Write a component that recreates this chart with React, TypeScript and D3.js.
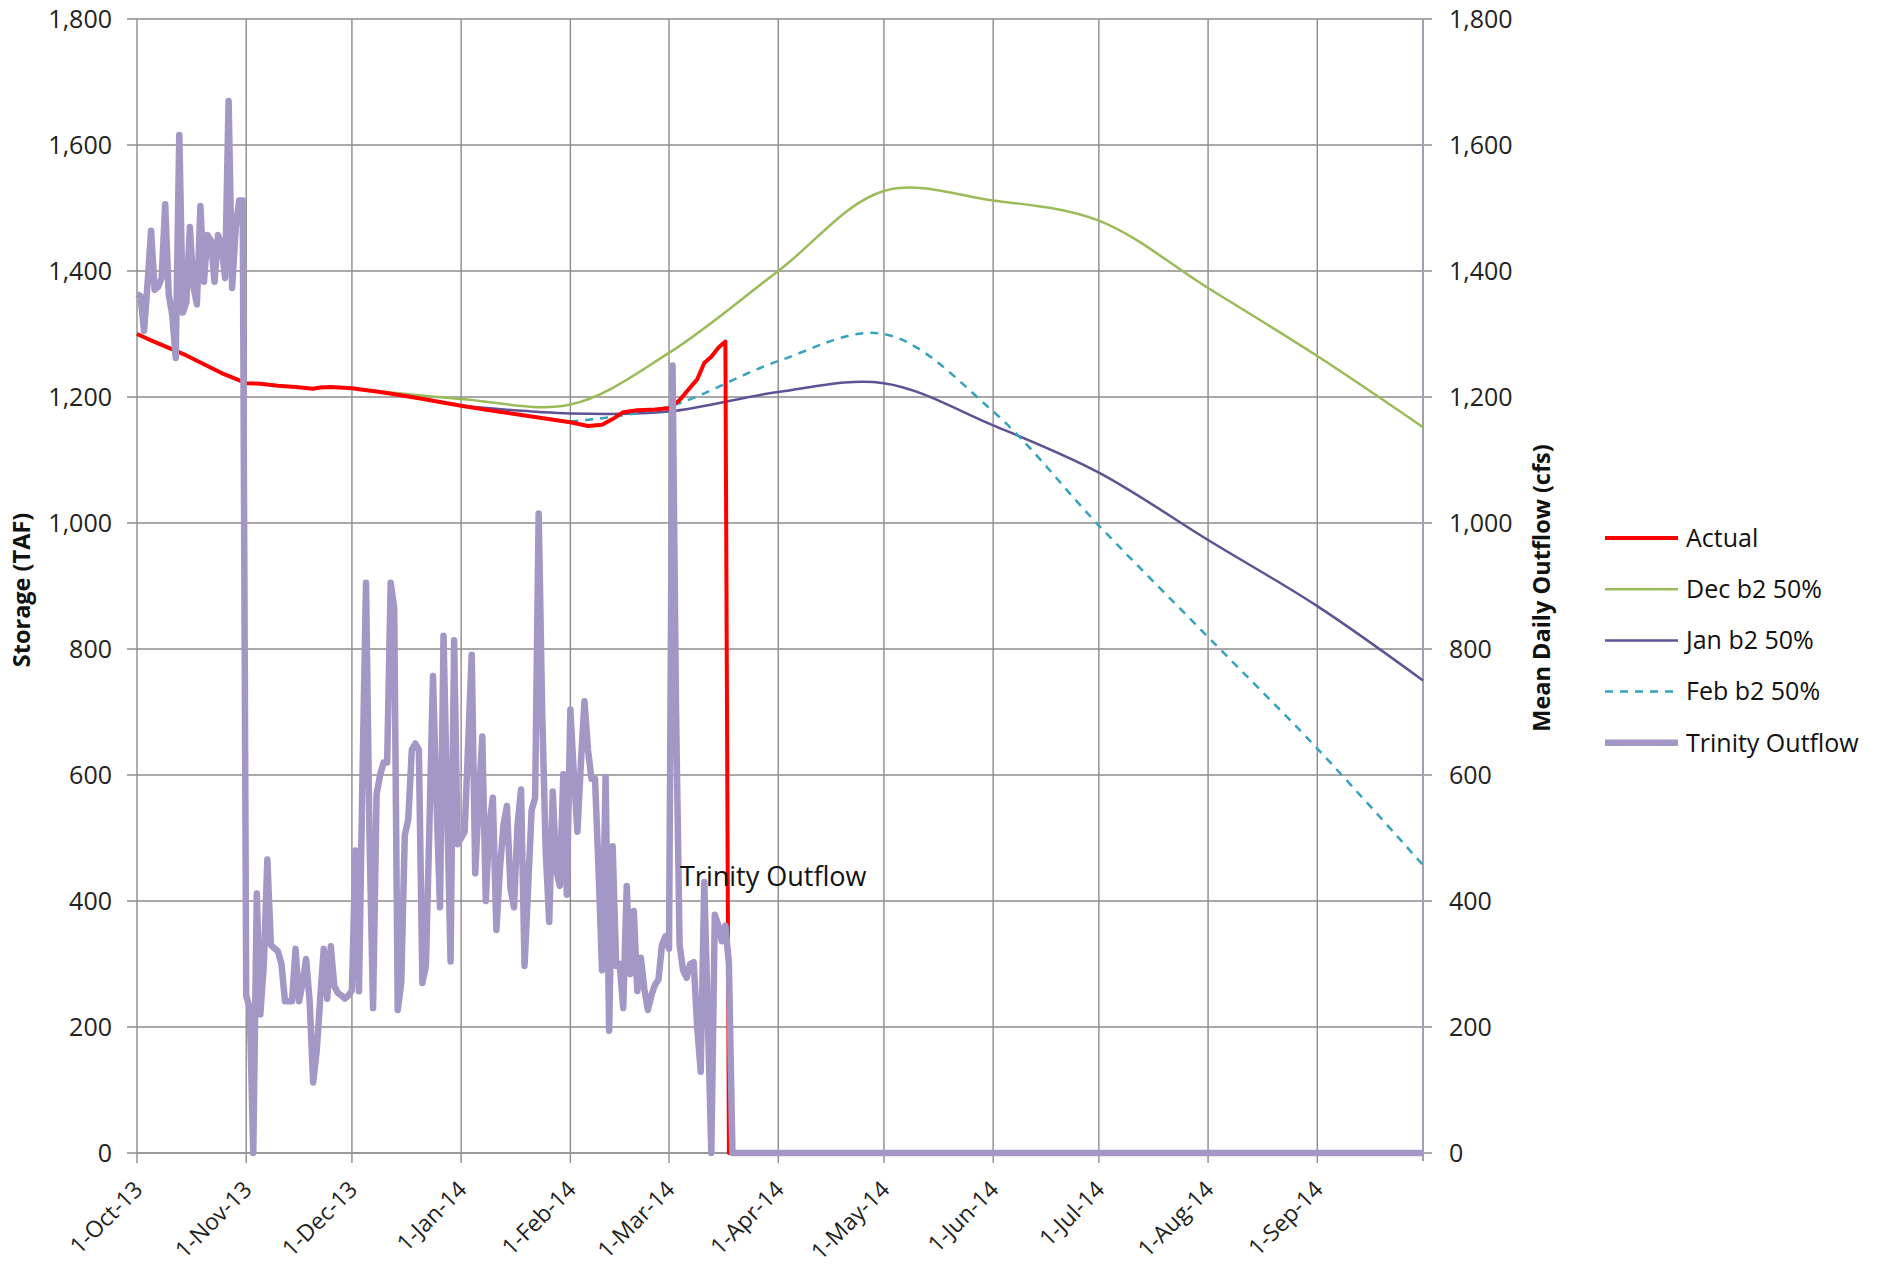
import React, { useEffect, useRef } from "react";
import * as d3 from "d3";

// month gridlines / x labels
const monthTicks = [
  "2013-10-01", "2013-11-01", "2013-12-01", "2014-01-01", "2014-02-01", "2014-03-01",
  "2014-04-01", "2014-05-01", "2014-06-01", "2014-07-01", "2014-08-01", "2014-09-01",
];
const monthLabels = [
  "1-Oct-13", "1-Nov-13", "1-Dec-13", "1-Jan-14", "1-Feb-14", "1-Mar-14",
  "1-Apr-14", "1-May-14", "1-Jun-14", "1-Jul-14", "1-Aug-14", "1-Sep-14",
];
const storageTicks = [0, 200, 400, 600, 800, 1000, 1200, 1400, 1600, 1800];

// Actual storage (TAF)
const actualDates = [
  "2013-10-01", "2013-10-05", "2013-10-10", "2013-10-15", "2013-10-20", "2013-10-25",
  "2013-11-01", "2013-11-05", "2013-11-10", "2013-11-15", "2013-11-20", "2013-11-22",
  "2013-11-25", "2013-12-01", "2013-12-10", "2013-12-20", "2014-01-01", "2014-01-10",
  "2014-01-20", "2014-02-01", "2014-02-06", "2014-02-10", "2014-02-13", "2014-02-16",
  "2014-02-20", "2014-02-25", "2014-03-01", "2014-03-04", "2014-03-07", "2014-03-09",
  "2014-03-11", "2014-03-13", "2014-03-15", "2014-03-17", "2014-03-18", "2014-10-01",
];
const actualValues = [
  1300, 1290, 1278, 1266, 1252, 1238,
  1222, 1221, 1218, 1216, 1213, 1215,
  1216, 1214, 1207, 1198, 1186, 1178,
  1170, 1160, 1154, 1156, 1165, 1176,
  1179, 1180, 1182, 1195, 1215, 1228,
  1254, 1264, 1278, 1288, 0, 0,
];

// forecasts (TAF)
const decDates = [
  "2013-12-01", "2014-01-01", "2014-02-01", "2014-03-01", "2014-04-01", "2014-05-01",
  "2014-06-01", "2014-07-01", "2014-08-01", "2014-09-01", "2014-10-01",
];
const decValues = [1214, 1197, 1188, 1270, 1400, 1527, 1512, 1480, 1373, 1265, 1152];

const janDates = [
  "2014-01-01", "2014-02-01", "2014-03-01", "2014-04-01", "2014-05-01",
  "2014-06-01", "2014-07-01", "2014-08-01", "2014-09-01", "2014-10-01",
];
const janValues = [1186, 1174, 1177, 1208, 1222, 1155, 1080, 973, 868, 750];

const febDates = [
  "2014-02-01", "2014-03-01", "2014-04-01", "2014-05-01",
  "2014-06-01", "2014-07-01", "2014-08-01", "2014-09-01", "2014-10-01",
];
const febValues = [1161, 1185, 1257, 1300, 1177, 996, 819, 642, 457];

// Trinity outflow (cfs), daily from 1-Oct-13
const trinityStart = "2013-10-01";
const trinityDaily = [
  // Oct
  1363, 1360, 1305, 1380, 1464, 1370, 1375, 1389, 1506, 1363, 1330, 1262, 1616, 1334, 1350, 1470,
  1376, 1347, 1503, 1383, 1457, 1448, 1383, 1457, 1440, 1389, 1670, 1373, 1467, 1512, 1512,
  // Nov
  250, 230, 0, 412, 220, 300, 466, 330, 325, 320, 300, 241, 241, 241, 324,
  241, 270, 308, 241, 112, 162, 245, 324, 245, 328, 265, 254, 250, 245, 250,
  // Dec
  258, 480, 257, 600, 905, 500, 230, 570, 600, 620, 620, 905, 865, 227, 270, 504,
  530, 640, 650, 640, 270, 297, 520, 757, 560, 390, 821, 560, 304, 814, 490,
  // Jan
  500, 510, 650, 791, 444, 560, 661, 400, 520, 564, 354, 450, 520, 551, 420, 390,
  520, 577, 297, 420, 544, 564, 1015, 700, 480, 367, 574, 450, 424, 601, 410,
  // Feb
  704, 600, 510, 620, 717, 640, 594, 594, 450, 290, 597, 194, 487, 297,
  300, 230, 424, 284, 384, 257, 310, 260, 227, 250, 267, 275, 330, 344,
  // Mar
  324, 1250, 700, 330, 290, 278, 300, 303, 200, 129, 430, 220, 0, 378, 361, 336, 361, 300, 0,
];
const trinityTailDates = ["2014-10-01"];
const trinityTail = [0];

const legendItems = [
  { name: "Actual", color: "#ff0000", width: 4, dash: null },
  { name: "Dec b2 50%", color: "#9bbb59", width: 2.5, dash: null },
  { name: "Jan b2 50%", color: "#5f5193", width: 2.5, dash: null },
  { name: "Feb b2 50%", color: "#35a3bd", width: 2.5, dash: "8,7" },
  { name: "Trinity Outflow", color: "#a397c5", width: 6.5, dash: null },
];

const FONT = "'Open Sans', sans-serif";

export default function App() {
  const svgRef = useRef<SVGSVGElement>(null);

  useEffect(() => {
    const svg = d3.select(svgRef.current);
    svg.selectAll("*").remove();

    const parse = d3.timeParse("%Y-%m-%d");
    const left = 137;
    const right = 1423;
    const top = 19;
    const bottom = 1153;

    const x = d3
      .scaleTime()
      .domain([parse("2013-10-01")!, parse("2014-10-01")!])
      .range([left, right]);
    const y = d3.scaleLinear().domain([0, 1800]).range([bottom, top]);

    svg.append("rect").attr("width", 1881).attr("height", 1273).attr("fill", "#fff");

    // horizontal grid + ticks on both sides
    svg
      .append("g")
      .selectAll("line")
      .data(storageTicks)
      .join("line")
      .attr("x1", left - 10)
      .attr("x2", right + 9)
      .attr("y1", (d) => y(d))
      .attr("y2", (d) => y(d))
      .attr("stroke", "#8c8c8c")
      .attr("stroke-width", 1.4);

    // vertical grid
    svg
      .append("g")
      .selectAll("line")
      .data(monthTicks)
      .join("line")
      .attr("x1", (d) => x(parse(d)!))
      .attr("x2", (d) => x(parse(d)!))
      .attr("y1", top)
      .attr("y2", bottom + 10)
      .attr("stroke", "#8c8c8c")
      .attr("stroke-width", 1.4);

    // right axis line
    svg
      .append("line")
      .attr("x1", right)
      .attr("x2", right)
      .attr("y1", top)
      .attr("y2", bottom + 8)
      .attr("stroke", "#a0a0b0")
      .attr("stroke-width", 2);

    // bottom axis line
    svg
      .append("line")
      .attr("x1", left)
      .attr("x2", right)
      .attr("y1", bottom)
      .attr("y2", bottom)
      .attr("stroke", "#999")
      .attr("stroke-width", 2);

    // y tick labels
    const fmt = d3.format(",");
    svg
      .append("g")
      .selectAll("text")
      .data(storageTicks)
      .join("text")
      .attr("x", 112)
      .attr("y", (d) => y(d))
      .attr("dy", "0.35em")
      .attr("text-anchor", "end")
      .style("font", `25px ${FONT}`)
      .attr("fill", "#222")
      .text((d) => fmt(d));

    svg
      .append("g")
      .selectAll("text")
      .data(storageTicks)
      .join("text")
      .attr("x", 1449)
      .attr("y", (d) => y(d))
      .attr("dy", "0.35em")
      .attr("text-anchor", "start")
      .style("font", `25px ${FONT}`)
      .attr("fill", "#222")
      .text((d) => fmt(d));

    // x tick labels
    svg
      .append("g")
      .selectAll("text")
      .data(monthTicks)
      .join("text")
      .attr("transform", (d) => `translate(${x(parse(d)!) + 7},${bottom + 38}) rotate(-45)`)
      .attr("text-anchor", "end")
      .style("font", `23px ${FONT}`)
      .attr("fill", "#222")
      .text((d, i) => monthLabels[i]);

    // axis titles
    svg
      .append("text")
      .attr("transform", `translate(30,${590}) rotate(-90)`)
      .attr("text-anchor", "middle")
      .style("font", `bold 23.5px ${FONT}`)
      .attr("fill", "#111")
      .text("Storage (TAF)");
    svg
      .append("text")
      .attr("transform", `translate(1550,${588}) rotate(-90)`)
      .attr("text-anchor", "middle")
      .style("font", `bold 23.5px ${FONT}`)
      .attr("fill", "#111")
      .text("Mean Daily Outflow (cfs)");

    const line = d3
      .line<[Date, number]>()
      .x((d) => x(d[0]))
      .y((d) => y(d[1]));
    const smooth = d3
      .line<[Date, number]>()
      .x((d) => x(d[0]))
      .y((d) => y(d[1]))
      .curve(d3.curveCatmullRom);

    const pairs = (dates: string[], vals: number[]) =>
      dates.map((d, i) => [parse(d)!, vals[i]] as [Date, number]);

    const addPath = (data: [Date, number][], gen: any, item: any) =>
      svg
        .append("path")
        .datum(data)
        .attr("d", gen)
        .attr("fill", "none")
        .attr("stroke", item.color)
        .attr("stroke-width", item.width)
        .attr("stroke-dasharray", item.dash)
        .attr("stroke-linejoin", "round");

    addPath(pairs(decDates, decValues), smooth, legendItems[1]);
    addPath(pairs(janDates, janValues), smooth, legendItems[2]);
    addPath(pairs(febDates, febValues), smooth, legendItems[3]);
    addPath(pairs(actualDates, actualValues), line, legendItems[0]);

    const t0 = parse(trinityStart)!;
    const trinity: [Date, number][] = trinityDaily
      .map((v, i) => [d3.timeDay.offset(t0, i), v] as [Date, number])
      .concat(pairs(trinityTailDates, trinityTail));
    addPath(trinity, line, legendItems[4]);

    // annotation
    svg
      .append("text")
      .attr("x", 680)
      .attr("y", 886)
      .style("font", `27px ${FONT}`)
      .attr("fill", "#111")
      .text("Trinity Outflow");

    // legend
    const lg = svg
      .append("g")
      .selectAll("g")
      .data(legendItems)
      .join("g")
      .attr("transform", (d, i) => `translate(1605,${538 + i * 51.2})`);
    lg.append("line")
      .attr("x1", 0)
      .attr("x2", 73)
      .attr("stroke", (d) => d.color)
      .attr("stroke-width", (d) => d.width)
      .attr("stroke-dasharray", (d) => d.dash);
    lg.append("text")
      .attr("x", 81)
      .attr("dy", "0.35em")
      .style("font", `25px ${FONT}`)
      .attr("fill", "#111")
      .text((d) => d.name);
  }, []);

  return (
    <>
      <style>{"body{margin:0}"}</style>
      <svg ref={svgRef} width={1881} height={1273} style={{ display: "block" }} />
    </>
  );
}
